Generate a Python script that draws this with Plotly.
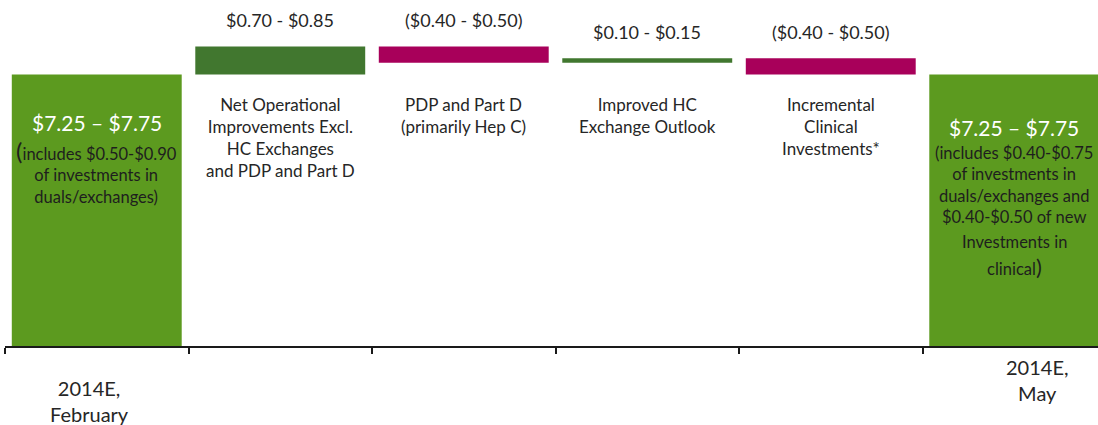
import numpy as np
import plotly.graph_objects as go

# ---------------- data ----------------
categories = [
    "2014E, February",
    "Net Operational Improvements Excl. HC Exchanges and PDP and Part D",
    "PDP and Part D (primarily Hep C)",
    "Improved HC Exchange Outlook",
    "Incremental Clinical Investments*",
    "2014E, May",
]
measures = ["absolute", "relative", "relative", "relative", "relative", "total"]
eps_values = [7.50, 0.775, -0.45, 0.125, -0.45, 0.0]   # midpoints of the guidance ranges
value_labels = ["$7.25 – $7.75", "$0.70 - $0.85", "($0.40 - $0.50)",
                "$0.10 - $0.15", "($0.40 - $0.50)", "$7.25 – $7.75"]
category_lines = [
    ["2014E,", "February"],
    ["Net Operational", "Improvements Excl.", "HC Exchanges", "and PDP and Part D"],
    ["PDP and Part D", "(primarily Hep C)"],
    ["Improved HC", "Exchange Outlook"],
    ["Incremental", "Clinical", "Investments*"],
    ["2014E,", "May"],
]
total_notes_feb = ["includes $0.50-$0.90", "of investments in", "duals/exchanges"]
total_notes_may = ["(includes $0.40-$0.75", "of investments in", "duals/exchanges and",
                   "$0.40-$0.50 of new", "Investments in", "clinical"]

# ---------------- style ----------------
FONT = "Lato, 'Open Sans', sans-serif"
TXT = "#262626"
C_TOTAL = "#5C9A1F"
C_UP = "#41772F"
C_DOWN = "#A8005A"

W, H = 1098, 425
ML, MR, MT, MB = 5, 0, 0, 79
PLOT_H = H - MT - MB
PX_PER_UNIT = 36.2
Y_MAX = PLOT_H / PX_PER_UNIT
X_MAX = -0.5 + (W - ML - MR) / 183.5

fig = go.Figure()
fig.add_trace(go.Waterfall(
    x=categories,
    y=eps_values,
    measure=measures,
    width=0.926,
    totals=dict(marker=dict(color=C_TOTAL)),
    increasing=dict(marker=dict(color=C_UP)),
    decreasing=dict(marker=dict(color=C_DOWN)),
    connector=dict(visible=False),
    textposition="none",
    hoverinfo="skip",
    showlegend=False,
))

# running levels from the data
levels = np.cumsum(eps_values[:5])
annotations = []

# value labels above the floating bars
for i in range(1, 5):
    top = max(levels[i - 1], levels[i])
    annotations.append(dict(
        x=categories[i], y=top, xref="x", yref="y",
        text=value_labels[i], showarrow=False,
        yanchor="middle", yshift=26,
        font=dict(family=FONT, size=18, color=TXT),
    ))

# category descriptions under the floating bars
for i in range(1, 5):
    annotations.append(dict(
        x=categories[i], y=1 - 92 / PLOT_H, xref="x", yref="paper",
        text="<br>".join(category_lines[i]), showarrow=False,
        yanchor="top", align="center",
        font=dict(family=FONT, size=17, color=TXT),
    ))

# text inside the total bars
annotations.append(dict(
    x=categories[0], y=1 - 122 / PLOT_H, xref="x", yref="paper",
    text=value_labels[0], showarrow=False, yanchor="middle",
    font=dict(family=FONT, size=21, color="#FFFFFF"),
))
annotations.append(dict(
    x=categories[0], y=1 - 134 / PLOT_H, xref="x", yref="paper",
    text="<span style='font-size:24px'>(</span>" + total_notes_feb[0] + "<br>"
         + "<br>".join(total_notes_feb[1:]) + ")",
    showarrow=False, yanchor="top", align="center",
    font=dict(family=FONT, size=16.5, color="#1E1E1E"),
))
annotations.append(dict(
    x=categories[5], y=1 - 127 / PLOT_H, xref="x", yref="paper",
    text=value_labels[5], showarrow=False, yanchor="middle",
    font=dict(family=FONT, size=21, color="#FFFFFF"),
))
annotations.append(dict(
    x=categories[5], y=1 - 141 / PLOT_H, xref="x", yref="paper",
    text="<br>".join(total_notes_may[:4]),
    showarrow=False, yanchor="top", align="center",
    font=dict(family=FONT, size=16.5, color="#1E1E1E"),
))
annotations.append(dict(
    x=categories[5], y=1 - 242 / PLOT_H, xref="x", yref="paper",
    text=total_notes_may[4],
    showarrow=False, yanchor="middle", align="center",
    font=dict(family=FONT, size=16.5, color="#1E1E1E"),
))
annotations.append(dict(
    x=categories[5], y=1 - 266 / PLOT_H, xref="x", yref="paper",
    text=total_notes_may[5] + "<span style='font-size:22px'>)</span>",
    showarrow=False, yanchor="middle", align="center",
    font=dict(family=FONT, size=16.5, color="#1E1E1E"),
))

# period labels under the axis
annotations.append(dict(
    x=categories[0], y=-(374 - PLOT_H) / PLOT_H, xref="x", yref="paper",
    text="<br>".join(category_lines[0]), showarrow=False,
    yanchor="top", xshift=-7, align="center",
    font=dict(family=FONT, size=20, color=TXT),
))
annotations.append(dict(
    x=categories[5], y=-(353 - PLOT_H) / PLOT_H, xref="x", yref="paper",
    text="<br>".join(category_lines[5]), showarrow=False,
    yanchor="top", xshift=23, align="center",
    font=dict(family=FONT, size=20, color=TXT),
))

fig.update_layout(
    width=W, height=H,
    margin=dict(l=ML, r=MR, t=MT, b=MB, pad=0),
    paper_bgcolor="white", plot_bgcolor="white",
    annotations=annotations,
    xaxis=dict(
        type="category", range=[-0.5, X_MAX],
        showticklabels=False, tickson="boundaries",
        ticks="outside", ticklen=6, tickwidth=1.5, tickcolor="#1A1A1A",
        showline=True, linecolor="#1A1A1A", linewidth=2,
        showgrid=False, zeroline=False, fixedrange=True,
    ),
    yaxis=dict(
        range=[0, Y_MAX], visible=False, showgrid=False, zeroline=False,
        fixedrange=True,
    ),
)

fig.write_html(
    "out.html",
    config={"displayModeBar": False},
    post_script="document.body.style.margin='0px';document.body.style.overflow='hidden';",
)
